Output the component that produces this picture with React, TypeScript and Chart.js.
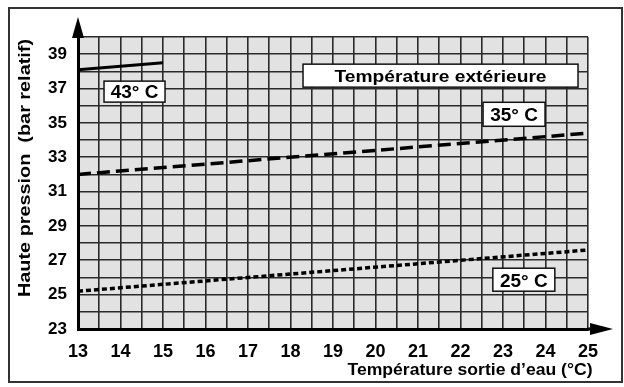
import { useEffect, useRef } from 'react';
import { Chart, registerables } from 'chart.js';

Chart.register(...registerables);

// Data
const waterTemp43 = [13, 15];
const pressure43 = [38.1, 38.5];
const waterTemp35 = [13, 25];
const pressure35 = [32.0, 34.4];
const waterTemp25 = [13, 25];
const pressure25 = [25.2, 27.6];
const seriesNames = ['43° C', '35° C', '25° C'];
const legendTitle = 'Température extérieure';
const xTitle = 'Température sortie d’eau (°C)';
const yTitle = 'Haute pression  (bar relatif)';
const xMin = 13;
const xMax = 25;
const yMin = 23;
const yMax = 40;

const FONT = '"Liberation Sans", Arial, Helvetica, sans-serif';

// Annotation boxes anchored in data coordinates
const boxes = [
  { text: seriesNames[0], x: 14.33, y: 36.82, w: 61, h: 21, size: 19 },
  { text: legendTitle, x: 21.53, y: 37.75, w: 275, h: 23, size: 17, tw: 212 },
  { text: seriesNames[1], x: 23.26, y: 35.5, w: 62, h: 24, size: 19 },
  { text: seriesNames[2], x: 23.49, y: 25.87, w: 62, h: 23, size: 19 },
];

function drawText(
  ctx: CanvasRenderingContext2D,
  text: string,
  x: number,
  baseY: number,
  size: number,
  targetW?: number,
  rotate = 0
) {
  ctx.save();
  ctx.font = `bold ${size}px ${FONT}`;
  const w = ctx.measureText(text).width;
  ctx.translate(x, baseY);
  if (rotate) ctx.rotate(rotate);
  if (targetW) ctx.scale(targetW / w, 1);
  ctx.textAlign = 'center';
  ctx.textBaseline = 'alphabetic';
  ctx.fillStyle = '#000';
  ctx.fillText(text, 0, 0);
  ctx.restore();
}

const overlay = {
  id: 'overlay',
  beforeDraw(chart: any) {
    const { ctx, chartArea: a } = chart;
    ctx.save();
    ctx.fillStyle = '#fff';
    ctx.fillRect(0, 0, chart.width, chart.height);
    ctx.fillStyle = '#e2e2e2';
    ctx.fillRect(a.left, a.top, a.right - a.left, a.bottom - a.top);
    ctx.restore();
  },
  afterDraw(chart: any) {
    const { ctx, chartArea: a, scales } = chart;
    const xs = scales.x;
    const ys = scales.y;
    ctx.save();
    // outer frame
    ctx.strokeStyle = '#333';
    ctx.lineWidth = 2;
    ctx.strokeRect(9, 8, 613, 374);

    // axis arrows
    ctx.fillStyle = '#000';
    ctx.beginPath();
    ctx.moveTo(a.left, a.top - 20);
    ctx.lineTo(a.left - 6, a.top + 1);
    ctx.lineTo(a.left + 6, a.top + 1);
    ctx.closePath();
    ctx.fill();
    ctx.beginPath();
    ctx.moveTo(a.right + 25, a.bottom);
    ctx.lineTo(a.right + 2, a.bottom - 6);
    ctx.lineTo(a.right + 2, a.bottom + 6);
    ctx.closePath();
    ctx.fill();
    ctx.fillRect(a.right - 1, a.bottom - 1.5, 4, 3);

    // boxes
    for (const b of boxes) {
      const cx = xs.getPixelForValue(b.x);
      const cy = ys.getPixelForValue(b.y);
      ctx.fillStyle = '#fff';
      ctx.fillRect(cx - b.w / 2, cy - b.h / 2, b.w, b.h);
      ctx.strokeStyle = '#111';
      ctx.lineWidth = 1.5;
      ctx.strokeRect(cx - b.w / 2, cy - b.h / 2, b.w, b.h);
      drawText(ctx, b.text, cx, cy + 0.358 * b.size, b.size, b.tw);
    }

    // axis titles
    drawText(ctx, xTitle, 470, 375, 17, 245);
    drawText(ctx, yTitle, 30, 168, 17, 258, -Math.PI / 2);
    ctx.restore();
  },
};

export default function App() {
  const ref = useRef<HTMLCanvasElement | null>(null);
  useEffect(() => {
    document.body.style.margin = '0';
    const canvas = ref.current;
    if (!canvas) return;
    const mk = (xv: number[], yv: number[]) => xv.map((x, i) => ({ x, y: yv[i] }));
    const chart = new Chart(canvas, {
      type: 'line',
      data: {
        datasets: [
          {
            label: seriesNames[0],
            data: mk(waterTemp43, pressure43),
            borderColor: '#000',
            borderWidth: 3,
            pointRadius: 0,
            fill: false,
          },
          {
            label: seriesNames[1],
            data: mk(waterTemp35, pressure35),
            borderColor: '#000',
            borderWidth: 3.5,
            borderDash: [13, 6],
            pointRadius: 0,
            fill: false,
          },
          {
            label: seriesNames[2],
            data: mk(waterTemp25, pressure25),
            borderColor: '#000',
            borderWidth: 3.5,
            borderDash: [5, 3],
            pointRadius: 0,
            fill: false,
          },
        ],
      },
      options: {
        animation: false,
        responsive: false,
        devicePixelRatio: 1,
        layout: { padding: { top: 37, right: 36, left: 0, bottom: 0 } },
        plugins: { legend: { display: false }, tooltip: { enabled: false } },
        scales: {
          x: {
            type: 'linear',
            min: xMin,
            max: xMax,
            afterFit: (s: any) => {
              s.height = 58;
            },
            ticks: {
              stepSize: 0.5,
              autoSkip: false,
              maxRotation: 0,
              padding: 12,
              color: '#000',
              font: { family: FONT, size: 18, weight: 'bold' },
              callback: (v: any) => (Number.isInteger(v) ? String(v) : ''),
            },
            grid: { color: '#2a2a2a', lineWidth: 1.6, drawTicks: false },
            border: { display: true, color: '#000', width: 3 },
          },
          y: {
            type: 'linear',
            min: yMin,
            max: yMax,
            afterFit: (s: any) => {
              s.width = 78;
            },
            ticks: {
              stepSize: 1,
              autoSkip: false,
              padding: 11,
              color: '#000',
              font: { family: FONT, size: 17, weight: 'bold' },
              callback: (v: any) => (v % 2 === 1 ? String(v) : ''),
            },
            grid: { color: '#2a2a2a', lineWidth: 1.6, drawTicks: false },
            border: { display: true, color: '#000', width: 3 },
          },
        },
      },
      plugins: [overlay],
    } as any);
    return () => chart.destroy();
  }, []);
  return <canvas ref={ref} width={624} height={387} />;
}
